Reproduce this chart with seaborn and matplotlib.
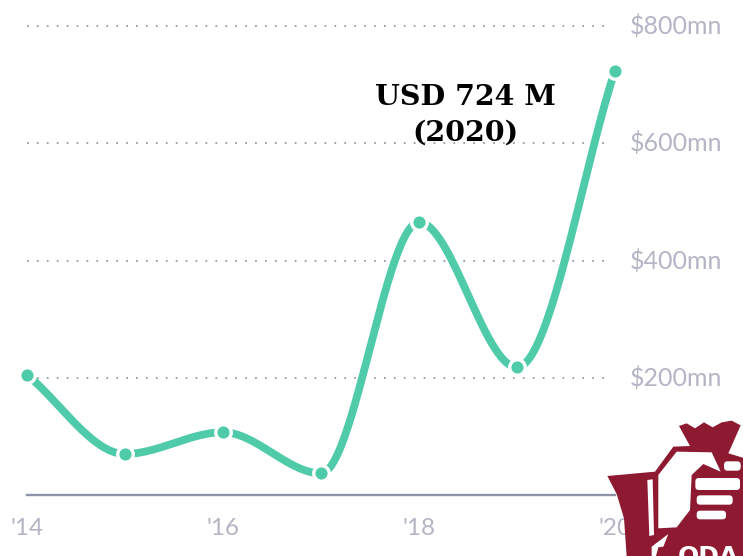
import numpy as np
import pandas as pd
import seaborn as sns
import matplotlib.pyplot as plt
from matplotlib.patches import Polygon, FancyBboxPatch

years = [2014, 2015, 2016, 2017, 2018, 2019, 2020]
revenue = [205, 70, 107, 37, 465, 218, 724]
x_ticks = [2014, 2016, 2018, 2020]
x_labels = ["'14", "'16", "'18", "'20"]
y_ticks = [200, 400, 600, 800]
y_labels = ["$200mn", "$400mn", "$600mn", "$800mn"]
callout = "USD 724 M\n(2020)"

LINE = "#4fcbaa"
GREY = "#b4b5c5"
AXIS = "#8f93aa"
BRAND = "#8e1a32"


def monotone_curve(x, y, per_segment=60):
    """Monotone cubic Hermite curve through the yearly values."""
    x = np.asarray(x, float)
    y = np.asarray(y, float)
    slope = np.diff(y) / np.diff(x)
    tangents = np.zeros_like(y)
    for i in range(1, len(y) - 1):
        if slope[i - 1] * slope[i] > 0:
            tangents[i] = 2 * slope[i - 1] * slope[i] / (slope[i - 1] + slope[i])
    tangents[0] = slope[0]
    tangents[-1] = slope[-1]
    xs, ys = [], []
    for i in range(len(x) - 1):
        t = np.linspace(0, 1, per_segment)
        h = x[i + 1] - x[i]
        xs.append(x[i] + t * h)
        ys.append((2*t**3 - 3*t**2 + 1) * y[i] + (t**3 - 2*t**2 + t) * h * tangents[i]
                  + (-2*t**3 + 3*t**2) * y[i + 1] + (t**3 - t**2) * h * tangents[i + 1])
    return np.concatenate(xs), np.concatenate(ys)


sns.set_theme(style="white")
plt.rcParams["font.family"] = ["Lato", "DejaVu Sans"]

W, H = 743, 556
fig = plt.figure(figsize=(W / 100, H / 100), dpi=100, facecolor="white")
left, right, top, bottom = 27, 615, 26, 495
ax = fig.add_axes([left / W, 1 - bottom / H, (right - left) / W, (bottom - top) / H])
ax.set_xlim(2014, 2020)
ax.set_ylim(0, 800)
ax.set_facecolor("none")

for v in y_ticks:
    ax.plot([2014, 2019.97], [v, v], color="#9d9ea9", lw=1.4,
            dashes=(0.9, 4.2), zorder=1, clip_on=False)

cx, cy = monotone_curve(years, revenue)
curve = pd.DataFrame({"year": cx, "revenue": cy})
points = pd.DataFrame({"year": years, "revenue": revenue})
sns.lineplot(data=curve, x="year", y="revenue", ax=ax, color=LINE, lw=5.6,
             solid_capstyle="round", zorder=3, clip_on=False, errorbar=None)
sns.scatterplot(data=points, x="year", y="revenue", ax=ax, color=LINE, s=125,
                edgecolor="white", linewidth=2.4, zorder=4, clip_on=False)

for side in ("top", "left", "right"):
    ax.spines[side].set_visible(False)
ax.spines["bottom"].set_color(AXIS)
ax.spines["bottom"].set_linewidth(1.7)

ax.set_xlabel("")
ax.set_ylabel("")
ax.set_xticks(x_ticks, x_labels)
ax.yaxis.tick_right()
ax.set_yticks(y_ticks, y_labels)
ax.tick_params(axis="x", length=3, width=0.8, color="#c9cad3", colors=GREY, labelsize=17.5, pad=13.5)
ax.tick_params(axis="y", length=0, colors=GREY, labelsize=18, pad=11)
for label in ax.get_yticklabels():
    label.set_y(label.get_position()[1])
    label.set_verticalalignment("center")

ax.text(0.745, 0.876, callout, transform=ax.transAxes, ha="center", va="top",
        family="DejaVu Serif", weight="bold", color="black", fontsize=20.5,
        linespacing=1.42, zorder=5)

# Money-bag emblem in the lower right corner, laid out in pixel coordinates
logo = fig.add_axes([0, 0, 1, 1], facecolor="none")
logo.set_xlim(0, W)
logo.set_ylim(H, 0)
logo.axis("off")


def px(points):
    return [(580 + a / 3, 390 + b / 3) for a, b in points]


logo.add_patch(Polygon(px([
    (297, 108), (320, 100), (345, 115), (372, 97), (398, 112), (425, 97), (455, 92),
    (482, 106), (445, 190), (495, 205), (495, 500), (140, 500), (132, 385), (110, 312),
    (82, 258), (225, 245), (280, 170), (330, 168)]), color=BRAND, lw=0))
logo.add_patch(Polygon(px([
    (235, 255), (290, 185), (395, 187), (422, 245), (370, 222), (335, 255),
    (330, 360), (290, 412), (235, 415)]), color="white", lw=0))
logo.add_patch(Polygon(px([(202, 270), (218, 268), (222, 435), (208, 438)]),
                       color="white", lw=0))
for x0, y0, w, h in [(346, 264, 134, 36), (350, 316, 108, 28), (350, 362, 88, 26), (432, 214, 50, 28)]:
    x_px, y_px = px([(x0, y0)])[0]
    logo.add_patch(FancyBboxPatch((x_px, y_px), w / 3, h / 3,
                                  boxstyle="round,pad=0,rounding_size=3.5", color="white", lw=0))
logo.add_patch(Polygon(px([(215, 470), (265, 432), (250, 470), (235, 472), (228, 498), (215, 498)]),
                       color="white", lw=0))
logo.text(708, 564, "ODA", color="white", weight="bold", family="DejaVu Sans",
          fontsize=18, ha="center", va="baseline", clip_on=True)

fig.savefig("out.png", dpi=100)
